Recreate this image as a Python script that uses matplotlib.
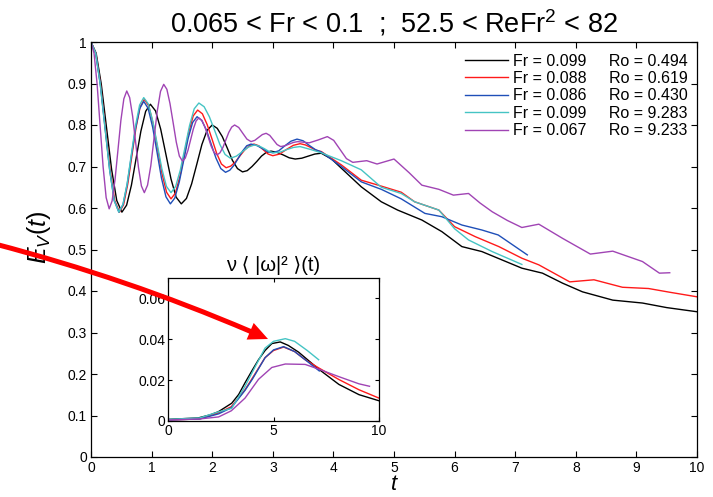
import matplotlib
matplotlib.use("Agg")
import matplotlib.pyplot as plt
from matplotlib.patches import FancyArrowPatch

plt.rcParams['font.family'] = ['Liberation Sans', 'DejaVu Sans']
plt.rcParams['mathtext.fontset'] = 'custom'
plt.rcParams['mathtext.rm'] = 'Liberation Sans'
plt.rcParams['mathtext.it'] = 'Liberation Sans:italic'

# ---- main panel: E_V(t) ----
t_black = [0, 0.085, 0.17, 0.255, 0.34, 0.425, 0.51, 0.588, 0.667, 0.745, 0.823, 0.902, 0.98,
           1.065, 1.15, 1.235, 1.32, 1.405, 1.49, 1.575, 1.66, 1.745, 1.83, 1.915, 2.0,
           2.083, 2.167, 2.25, 2.333, 2.417, 2.5, 2.578, 2.657, 2.735, 2.813, 2.892, 2.97,
           3.07, 3.17, 3.27, 3.37, 3.478, 3.585, 3.693, 3.8, 3.97, 4.13, 4.46, 4.79, 5.06,
           5.46, 5.79, 6.12, 6.45, 6.78, 7.11, 7.45, 7.78, 8.11, 8.61, 9.1, 9.5, 10.0]
e_black = [1.0, 0.973, 0.898, 0.795, 0.693, 0.618, 0.59, 0.607, 0.655, 0.72, 0.785, 0.833, 0.85,
           0.834, 0.79, 0.73, 0.67, 0.626, 0.61, 0.623, 0.658, 0.705, 0.753, 0.787, 0.80,
           0.792, 0.772, 0.744, 0.715, 0.695, 0.687, 0.69, 0.70, 0.712, 0.725, 0.734, 0.737,
           0.734, 0.728, 0.721, 0.718, 0.72, 0.725, 0.73, 0.732, 0.718, 0.696, 0.651, 0.615, 0.595,
           0.571, 0.543, 0.507, 0.495, 0.475, 0.455, 0.443, 0.419, 0.398, 0.378, 0.371, 0.36, 0.35]

t_red = [0, 0.078, 0.157, 0.235, 0.313, 0.392, 0.47, 0.538, 0.607, 0.675, 0.743, 0.812, 0.88,
         0.953, 1.027, 1.10, 1.173, 1.247, 1.32, 1.393, 1.467, 1.54, 1.613, 1.687, 1.76,
         1.838, 1.917, 1.995, 2.073, 2.152, 2.23, 2.307, 2.383, 2.46, 2.537, 2.613, 2.69,
         2.768, 2.845, 2.923, 3.0, 3.113, 3.225, 3.338, 3.45, 3.538, 3.625, 3.713, 3.8,
         4.13, 4.46, 4.74, 5.12, 5.34, 5.74, 6.0, 6.34, 6.73, 7.11, 7.39, 7.9, 8.3, 8.77,
         9.2, 9.55, 10.0]
e_red = [1.0, 0.973, 0.898, 0.795, 0.693, 0.618, 0.59, 0.608, 0.658, 0.726, 0.794, 0.844, 0.862,
         0.846, 0.802, 0.742, 0.682, 0.638, 0.622, 0.636, 0.676, 0.729, 0.783, 0.822, 0.836,
         0.827, 0.801, 0.767, 0.732, 0.706, 0.697, 0.701, 0.711, 0.726, 0.74, 0.75, 0.754,
         0.75, 0.74, 0.73, 0.726, 0.73, 0.741, 0.751, 0.755, 0.752, 0.746, 0.739, 0.736,
         0.704, 0.667, 0.655, 0.638, 0.615, 0.595, 0.555, 0.531, 0.507, 0.479, 0.463, 0.422, 0.427, 0.409,
         0.406, 0.397, 0.386]

t_blue = [0, 0.077, 0.153, 0.23, 0.307, 0.383, 0.46, 0.528, 0.597, 0.665, 0.733, 0.802, 0.87,
          0.943, 1.017, 1.09, 1.163, 1.237, 1.31, 1.383, 1.457, 1.53, 1.603, 1.677, 1.75,
          1.828, 1.907, 1.985, 2.063, 2.142, 2.22, 2.29, 2.36, 2.43, 2.50, 2.57, 2.64,
          2.73, 2.82, 2.91, 3.0, 3.1, 3.2, 3.3, 3.4, 3.5, 3.6, 3.7, 3.8,
          4.13, 4.46, 4.79, 5.12, 5.51, 5.79, 6.12, 6.45, 6.72, 7.0, 7.2]
e_blue = [1.0, 0.973, 0.898, 0.795, 0.693, 0.618, 0.59, 0.608, 0.657, 0.724, 0.79, 0.839, 0.857,
          0.84, 0.795, 0.734, 0.672, 0.627, 0.61, 0.624, 0.663, 0.715, 0.768, 0.806, 0.82,
          0.811, 0.787, 0.753, 0.72, 0.695, 0.686, 0.691, 0.703, 0.72, 0.737, 0.75, 0.754,
          0.751, 0.744, 0.736, 0.733, 0.738, 0.75, 0.761, 0.766, 0.762, 0.751, 0.741, 0.735,
          0.70, 0.663, 0.645, 0.622, 0.587, 0.579, 0.559, 0.547, 0.535, 0.507, 0.487]

t_cyan = [0, 0.077, 0.153, 0.23, 0.307, 0.383, 0.46, 0.528, 0.597, 0.665, 0.733, 0.802, 0.87,
          0.945, 1.02, 1.095, 1.17, 1.245, 1.32, 1.397, 1.473, 1.55, 1.627, 1.703, 1.78,
          1.867, 1.953, 2.04, 2.127, 2.213, 2.3, 2.4, 2.5, 2.6, 2.7, 2.78, 2.86, 2.94, 3.02,
          3.128, 3.235, 3.343, 3.45, 3.625, 3.8, 4.13, 4.46, 4.79, 5.12, 5.34, 5.74, 6.0,
          6.23, 6.62, 7.11]
e_cyan = [1.0, 0.973, 0.898, 0.795, 0.693, 0.618, 0.59, 0.609, 0.659, 0.728, 0.797, 0.848, 0.866,
          0.851, 0.809, 0.752, 0.694, 0.652, 0.637, 0.652, 0.691, 0.745, 0.799, 0.839, 0.853,
          0.844, 0.82, 0.787, 0.753, 0.729, 0.72, 0.725, 0.736, 0.747, 0.752, 0.749, 0.743, 0.736, 0.733,
          0.735, 0.741, 0.746, 0.748, 0.741, 0.733, 0.714, 0.692, 0.650, 0.635, 0.615, 0.595, 0.55,
          0.523, 0.495, 0.464]

t_purple = [0, 0.05, 0.1, 0.15, 0.2, 0.25, 0.30, 0.348, 0.397, 0.445, 0.493, 0.542, 0.59,
            0.638, 0.687, 0.735, 0.783, 0.832, 0.88, 0.933, 0.987, 1.04, 1.093, 1.147, 1.2,
            1.252, 1.303, 1.355, 1.407, 1.458, 1.51, 1.555, 1.6, 1.645, 1.69, 1.735, 1.78,
            1.83, 1.88, 1.93, 1.98, 2.03, 2.08, 2.128, 2.177, 2.225, 2.273, 2.322, 2.37,
            2.438, 2.505, 2.573, 2.64, 2.703, 2.765, 2.828, 2.89, 2.95, 3.01, 3.07, 3.13,
            3.2, 3.27, 3.34, 3.41, 3.6, 3.75, 3.9, 4.005, 4.11, 4.215, 4.32, 4.55, 4.72, 5.0,
            5.25, 5.46, 5.74, 5.98, 6.23, 6.42, 6.62, 6.87, 7.11, 7.39, 7.78, 8.24, 8.61, 9.1,
            9.38, 9.55]
e_purple = [1.0, 0.973, 0.90, 0.799, 0.699, 0.625, 0.598, 0.617, 0.669, 0.74, 0.811, 0.863, 0.882,
            0.866, 0.821, 0.76, 0.698, 0.653, 0.637, 0.655, 0.702, 0.768, 0.833, 0.881, 0.898,
            0.886, 0.852, 0.806, 0.759, 0.725, 0.713, 0.72, 0.739, 0.765, 0.791, 0.81, 0.817,
            0.811, 0.795, 0.773, 0.75, 0.734, 0.728, 0.733, 0.746, 0.764, 0.782, 0.795, 0.80,
            0.794, 0.78, 0.766, 0.76, 0.763, 0.77, 0.777, 0.78, 0.775, 0.764, 0.753, 0.748,
            0.75, 0.754, 0.758, 0.76, 0.757, 0.764, 0.772, 0.763, 0.741, 0.719, 0.71, 0.714, 0.706, 0.718,
            0.685, 0.655, 0.645, 0.631, 0.635, 0.612, 0.591, 0.57, 0.553, 0.561, 0.527, 0.489, 0.496, 0.471,
            0.443, 0.444]

# ---- inset: nu <|omega|^2>(t) ----
ti_black = [0, 1.43, 2.0, 2.38, 3.02, 3.35, 3.65, 4.0, 4.29, 4.6, 4.92, 5.32, 5.7, 6.19, 7.14, 8.1, 9.05, 10.0]
wi_black = [0.0008, 0.0015, 0.003, 0.0045, 0.0087, 0.013, 0.0187, 0.025, 0.030, 0.0345, 0.0379, 0.0387,
            0.037, 0.0337, 0.0254, 0.0179, 0.0129, 0.0099]
ti_red = [0, 1.5, 2.4, 3.0, 3.65, 4.0, 4.6, 5.0, 5.48, 6.0, 6.5, 7.14, 8.1, 9.05, 10.0]
wi_red = [0.0005, 0.001, 0.004, 0.007, 0.0153, 0.021, 0.031, 0.0345, 0.0362, 0.034, 0.030, 0.026,
          0.0203, 0.0153, 0.0112]
ti_blue = [0, 1.5, 2.4, 3.0, 3.65, 4.0, 4.6, 5.0, 5.48, 6.0, 6.5, 7.17]
wi_blue = [0.0005, 0.001, 0.0035, 0.0065, 0.015, 0.0205, 0.031, 0.0348, 0.0364, 0.034, 0.030, 0.0245]
ti_cyan = [0, 1.5, 2.4, 3.02, 3.65, 4.0, 4.6, 5.0, 5.56, 6.0, 6.6, 7.14]
wi_cyan = [0.0008, 0.0015, 0.0045, 0.0062, 0.017, 0.024, 0.0357, 0.039, 0.0403, 0.039, 0.0345, 0.030]
ti_purple = [0, 1.5, 2.4, 3.0, 3.65, 4.29, 4.92, 5.56, 6.5, 7.14, 8.1, 9.05, 9.55]
wi_purple = [0.0005, 0.001, 0.002, 0.005, 0.0112, 0.0204, 0.0262, 0.0279, 0.0277, 0.0254, 0.0217,
             0.0182, 0.017]

labels = ["Fr = 0.099     Ro = 0.494", "Fr = 0.088     Ro = 0.619", "Fr = 0.086     Ro = 0.430",
          "Fr = 0.099     Ro = 9.283", "Fr = 0.067     Ro = 9.233"]
colors = ["#000000", "#ff1a1a", "#1f4fb8", "#45c4c4", "#a044b4"]

main_series = [(t_black, e_black), (t_red, e_red), (t_blue, e_blue), (t_cyan, e_cyan), (t_purple, e_purple)]
inset_series = [(ti_black, wi_black), (ti_red, wi_red), (ti_blue, wi_blue), (ti_cyan, wi_cyan),
                (ti_purple, wi_purple)]

W, H = 713, 497
fig = plt.figure(figsize=(W / 100, H / 100), dpi=100)

ax = fig.add_axes([91 / W, 1 - 457 / H, (697 - 91) / W, (457 - 42) / H])
for (tt, ee), c, lab in zip(main_series, colors, labels):
    ax.plot(tt, ee, color=c, lw=1.0, label=lab)
ax.set_xlim(0, 10)
ax.set_ylim(0, 1)
ax.set_xticks(range(0, 11))
ax.set_yticks([0, 0.1, 0.2, 0.3, 0.4, 0.5, 0.6, 0.7, 0.8, 0.9, 1])
ax.set_yticklabels(["0", "0.1", "0.2", "0.3", "0.4", "0.5", "0.6", "0.7", "0.8", "0.9", "1"])
ax.tick_params(direction="in", top=True, right=True, length=4, width=0.8, labelsize=10, pad=3)
for s in ax.spines.values():
    s.set_linewidth(0.9)
ax.set_title("0.065 < Fr < 0.1  ;  52.5 < ReFr$^2$ < 82", fontsize=19.5, pad=7)
ax.set_xlabel("$t$", fontsize=16, labelpad=-1)
ax.set_ylabel("$E_V(t)$", fontsize=18)
ax.yaxis.set_label_coords(-0.062, 0.53)
leg = ax.legend(loc="upper right", frameon=False, fontsize=11.5, handlelength=2.7,
                handletextpad=0.3, labelspacing=0.15, borderaxespad=0, borderpad=0,
                bbox_to_anchor=(0.985, 0.972))

ins = fig.add_axes([168 / W, 1 - 421 / H, (379 - 168) / W, (421 - 278) / H])
for (tt, ww), c in zip(inset_series, colors):
    ins.plot(tt, ww, color=c, lw=1.0)
ins.set_xlim(0, 10)
ins.set_ylim(0, 0.07)
ins.set_xticks([0, 5, 10])
ins.set_yticks([0, 0.02, 0.04, 0.06])
ins.set_yticklabels(["0", "0.02", "0.04", "0.06"])
ins.tick_params(direction="in", top=True, right=True, length=3, width=0.8, labelsize=10, pad=2)
for s in ins.spines.values():
    s.set_linewidth(0.9)
ins.set_title("ν ⟨ |ω|² ⟩(t)", fontsize=14.5, pad=5)

# red pointer arrow, in figure pixels
arrow = FancyArrowPatch((-5 / W, 1 - 244 / H), (268 / W, 1 - 339 / H), transform=fig.transFigure,
                        connectionstyle="arc3,rad=-0.04",
                        arrowstyle="simple,head_length=14,head_width=13,tail_width=3.6",
                        mutation_scale=1, shrinkA=0, shrinkB=0, color="#ff0000", lw=0, zorder=10)
fig.patches.append(arrow)

fig.savefig("out.png", dpi=100)
